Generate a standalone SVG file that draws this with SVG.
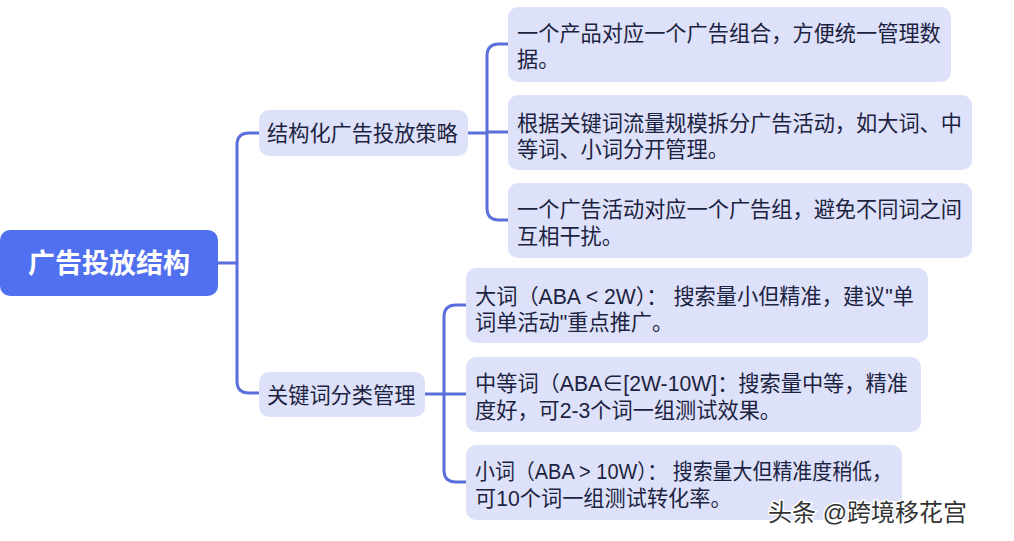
<svg xmlns="http://www.w3.org/2000/svg" width="1014" height="541" viewBox="0 0 1014 541">
<style>
.bg{fill:#ffffff}
.root{fill:#5170EF}
.node{fill:#DDE1FA}
.rt{font-family:"Liberation Sans","Noto Sans CJK SC",sans-serif;font-size:27px;font-weight:700;fill:#ffffff}
.t{font-family:"Liberation Sans","Noto Sans CJK SC",sans-serif;font-size:21.2px;fill:#1C2340}
.c{fill:none;stroke:#5A6FDC;stroke-width:3;stroke-linecap:round}
.wm{font-family:"Liberation Sans","Noto Sans CJK SC",sans-serif;font-size:24px;fill:#333;stroke:#fff;stroke-width:3;paint-order:stroke}
</style>
<rect class="bg" width="1014" height="541"/>
<g id="connectors">
<path class="c" d="M218,263 H237"/>
<path class="c" d="M259,133 H249 Q237,133 237,145 V381 Q237,393 249,393 H259"/>
<path class="c" d="M468,133 H487"/>
<path class="c" d="M508,44 H499 Q487,44 487,56 V208 Q487,220 499,220 H508"/>
<path class="c" d="M487,132 H508"/>
<path class="c" d="M425,394 H444"/>
<path class="c" d="M466,305 H456 Q444,305 444,317 V470 Q444,482 456,482 H466"/>
<path class="c" d="M444,394 H466"/>
</g>
<g id="root">
<rect class="root" x="0" y="230" width="218" height="66" rx="10"/>
<text class="rt" x="109" y="273" text-anchor="middle">广告投放结构</text>
</g>
<g id="n1">
<rect class="node" x="259" y="110" width="209" height="46" rx="10"/>
<text class="t" x="267" y="141">结构化广告投放策略</text>
</g>
<g id="n2">
<rect class="node" x="259" y="372" width="166" height="45" rx="10"/>
<text class="t" x="267" y="403">关键词分类管理</text>
</g>
<g id="l1">
<rect class="node" x="508" y="7" width="443" height="75" rx="10"/>
<text class="t" x="517" y="41">一个产品对应一个广告组合，方便统一管理数<tspan x="517" dy="26">据。</tspan></text>
</g>
<g id="l2">
<rect class="node" x="508" y="95" width="464" height="75" rx="10"/>
<text class="t" x="517" y="131">根据关键词流量规模拆分广告活动，如大词、中<tspan x="517" dy="26">等词、小词分开管理。</tspan></text>
</g>
<g id="l3">
<rect class="node" x="508" y="183" width="464" height="75" rx="10"/>
<text class="t" x="517" y="217">一个广告活动对应一个广告组，避免不同词之间<tspan x="517" dy="27">互相干扰。</tspan></text>
</g>
<g id="m1">
<rect class="node" x="466" y="268" width="462" height="75" rx="10"/>
<text class="t" x="475" y="304">大词（ABA &lt; 2W）： 搜索量小但精准，建议"单<tspan x="475" dy="26">词单活动"重点推广。</tspan></text>
</g>
<g id="m2">
<rect class="node" x="466" y="357" width="455" height="75" rx="10"/>
<text class="t" x="475" y="391">中等词（ABA∈[2W-10W]：搜索量中等，精准<tspan x="475" dy="27">度好，可2-3个词一组测试效果。</tspan></text>
</g>
<g id="m3">
<rect class="node" x="466" y="445" width="436" height="75" rx="10"/>
<text class="t" x="475" y="479"><tspan textLength="417" lengthAdjust="spacingAndGlyphs">小词（ABA &gt; 10W）： 搜索量大但精准度稍低，</tspan><tspan x="475" dy="27">可10个词一组测试转化率。</tspan></text>
</g>
<text class="wm" x="768" y="521">头条 @跨境移花宫</text>
</svg>
